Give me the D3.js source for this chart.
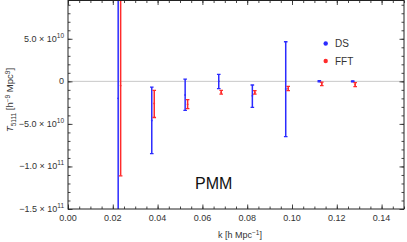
<!DOCTYPE html>
<meta charset="utf-8">
<title>T5111 PMM</title>
<style>
  body { margin: 0; background: #fff; }
  text { font-family: "Liberation Sans", Arial, sans-serif; fill: #333; }
</style>
<svg width="407" height="242"></svg>
<script src="https://d3js.org/d3.v7.min.js"></script>
<script>

  // DS estimator: k, central value, lower / upper end of the error bar
  var dsK  = [0.0224, 0.0374, 0.0523, 0.0673, 0.0823, 0.0972, 0.1122, 0.1271],
      dsV  = [-2.0e10, -4.6e10, -1.6e10, 0, -1.7e10, -9.0e9, 0, 0],
      dsLo = [-3.0e11, -8.5e10, -3.4e10, -8.6e9, -3.05e10, -6.5e10, -7e8, -5e8],
      dsHi = [3.0e11, -6.7e9, 2.7e9, 8.2e9, -4.3e9, 4.65e10, 7e8, 5e8];

  // FFT estimator
  var fftK  = [0.0235, 0.0385, 0.0534, 0.0684, 0.0834, 0.0983, 0.1133, 0.1282],
      fftV  = [-5.0e9, -2.6e10, -2.7e10, -1.3e10, -1.3e10, -8.5e9, -2.9e9, -3.9e9],
      fftLo = [-1.11e11, -4.25e10, -3.2e10, -1.5e10, -1.5e10, -1.1e10, -5.0e9, -6.2e9],
      fftHi = [1.01e11, -1.05e10, -2.15e10, -1.05e10, -1.1e10, -5.9e9, -0.8e9, -1.5e9];

  var xTicks = [0, 0.02, 0.04, 0.06, 0.08, 0.10, 0.12, 0.14],
      yTicks = [-1.5e11, -1.0e11, -5.0e10, 0, 5.0e10],
      yMant  = ["\u22121.5", "\u22121.0", "\u22125.0", "0", "5.0"],
      yExp   = ["11", "11", "10", "", "10"];

  var svg = d3.select("svg");
  var pL = 68, pR = 404, pT = 0.5, pB = 209;

  var x = d3.scaleLinear().domain([0, 0.15]).range([pL, pR]);
  var y = d3.scaleLinear().domain([-1.5e11, 9.5e10]).range([pB, pT]);

  svg.append("clipPath").attr("id", "clip")
     .append("rect").attr("x", pL).attr("y", pT)
     .attr("width", pR - pL).attr("height", pB - pT);

  // zero line
  svg.append("line")
     .attr("x1", pL).attr("x2", pR)
     .attr("y1", y(0)).attr("y2", y(0))
     .attr("stroke", "#c8c8c8").attr("stroke-width", 1);

  var plot = svg.append("g").attr("clip-path", "url(#clip)");

  function bars(ks, vs, lo, hi, col) {
    var g = plot.append("g");
    ks.forEach(function(k, i) {
      var cx = x(k);
      g.append("line").attr("x1", cx).attr("x2", cx)
       .attr("y1", y(lo[i])).attr("y2", y(hi[i]))
       .attr("stroke", col).attr("stroke-width", 1.5);
      [lo[i], hi[i]].forEach(function(v) {
        g.append("line").attr("x1", cx - 1.8).attr("x2", cx + 1.8)
         .attr("y1", y(v)).attr("y2", y(v))
         .attr("stroke", col).attr("stroke-width", 1.3);
      });
      g.append("circle").attr("cx", cx).attr("cy", y(vs[i]))
       .attr("r", 0.9).attr("fill", col);
    });
  }
  bars(dsK, dsV, dsLo, dsHi, "#2b2bff");
  bars(fftK, fftV, fftLo, fftHi, "#ff2b2b");

  // frame ticks, pointing inward, on all four sides
  var minorX = d3.range(0, 0.1501, 0.005),
      minorY = d3.range(-1.5e11, 9.5e10, 1e10);

  function tickAxis(axis, tv, size, tr) {
    var g = svg.append("g").attr("transform", tr)
      .call(axis.tickValues(tv).tickSize(size).tickFormat(""));
    g.select(".domain").remove();
    g.selectAll("line").attr("stroke", "#333").attr("stroke-width", 0.9);
    return g;
  }
  tickAxis(d3.axisBottom(x), xTicks, -4.5, "translate(0," + pB + ")");
  tickAxis(d3.axisBottom(x), minorX, -2.5, "translate(0," + pB + ")");
  tickAxis(d3.axisTop(x), xTicks, -4.5, "translate(0," + pT + ")");
  tickAxis(d3.axisTop(x), minorX, -2.5, "translate(0," + pT + ")");
  tickAxis(d3.axisLeft(y), yTicks, -4.5, "translate(" + pL + ",0)");
  tickAxis(d3.axisLeft(y), minorY, -2.5, "translate(" + pL + ",0)");
  tickAxis(d3.axisRight(y), yTicks, -4.5, "translate(" + pR + ",0)");
  tickAxis(d3.axisRight(y), minorY, -2.5, "translate(" + pR + ",0)");

  svg.append("rect")
     .attr("x", pL).attr("y", pT)
     .attr("width", pR - pL).attr("height", pB - pT)
     .attr("fill", "none").attr("stroke", "#222").attr("stroke-width", 1);

  // x tick labels
  svg.selectAll(".xl").data(xTicks).enter().append("text")
     .attr("x", function(d) { return x(d); })
     .attr("y", pB + 12)
     .attr("text-anchor", "middle").attr("font-size", 9)
     .text(function(d) { return d3.format(".2f")(d); });

  // y tick labels like "5.0 × 10^10"
  yTicks.forEach(function(v, i) {
    var t = svg.append("text")
      .attr("x", pL - 4).attr("y", y(v) + 3)
      .attr("text-anchor", "end").attr("font-size", 9);
    if (yExp[i] === "") { t.text(yMant[i]); return; }
    t.append("tspan").text(yMant[i] + " \u00d7 10");
    t.append("tspan").attr("dy", -4).attr("font-size", 6.5).text(yExp[i]);
  });

  // axis titles
  var xl = svg.append("text").attr("x", 240).attr("y", 238)
     .attr("text-anchor", "middle").attr("font-size", 9);
  xl.append("tspan").text("k [h Mpc");
  xl.append("tspan").attr("dy", -3.5).attr("font-size", 6.5).text("\u22121");
  xl.append("tspan").attr("dy", 3.5).text("]");

  var yl = svg.append("text")
     .attr("transform", "translate(13,100) rotate(-90)")
     .attr("text-anchor", "middle").attr("font-size", 9.5);
  yl.append("tspan").attr("font-style", "italic").text("T");
  yl.append("tspan").attr("dy", 2.5).attr("font-size", 6.5).text("5111");
  yl.append("tspan").attr("dy", -2.5).text(" [h");
  yl.append("tspan").attr("dy", -3.5).attr("font-size", 6.5).text("\u22129");
  yl.append("tspan").attr("dy", 3.5).text(" Mpc");
  yl.append("tspan").attr("dy", -3.5).attr("font-size", 6.5).text("9");
  yl.append("tspan").attr("dy", 3.5).text("]");

  // legend
  var legend = [["DS", "#2b2bff"], ["FFT", "#ff2b2b"]];
  legend.forEach(function(d, i) {
    var ly = 43.5 + i * 17.5;
    svg.append("circle").attr("cx", 325.7).attr("cy", ly).attr("r", 2.2).attr("fill", d[1]);
    svg.append("text").attr("x", 335).attr("y", ly + 3.5)
       .attr("font-size", 10).text(d[0]);
  });

  svg.append("text").attr("x", 195).attr("y", 189)
     .attr("font-size", 16).style("fill", "#111").text("PMM");

</script>
